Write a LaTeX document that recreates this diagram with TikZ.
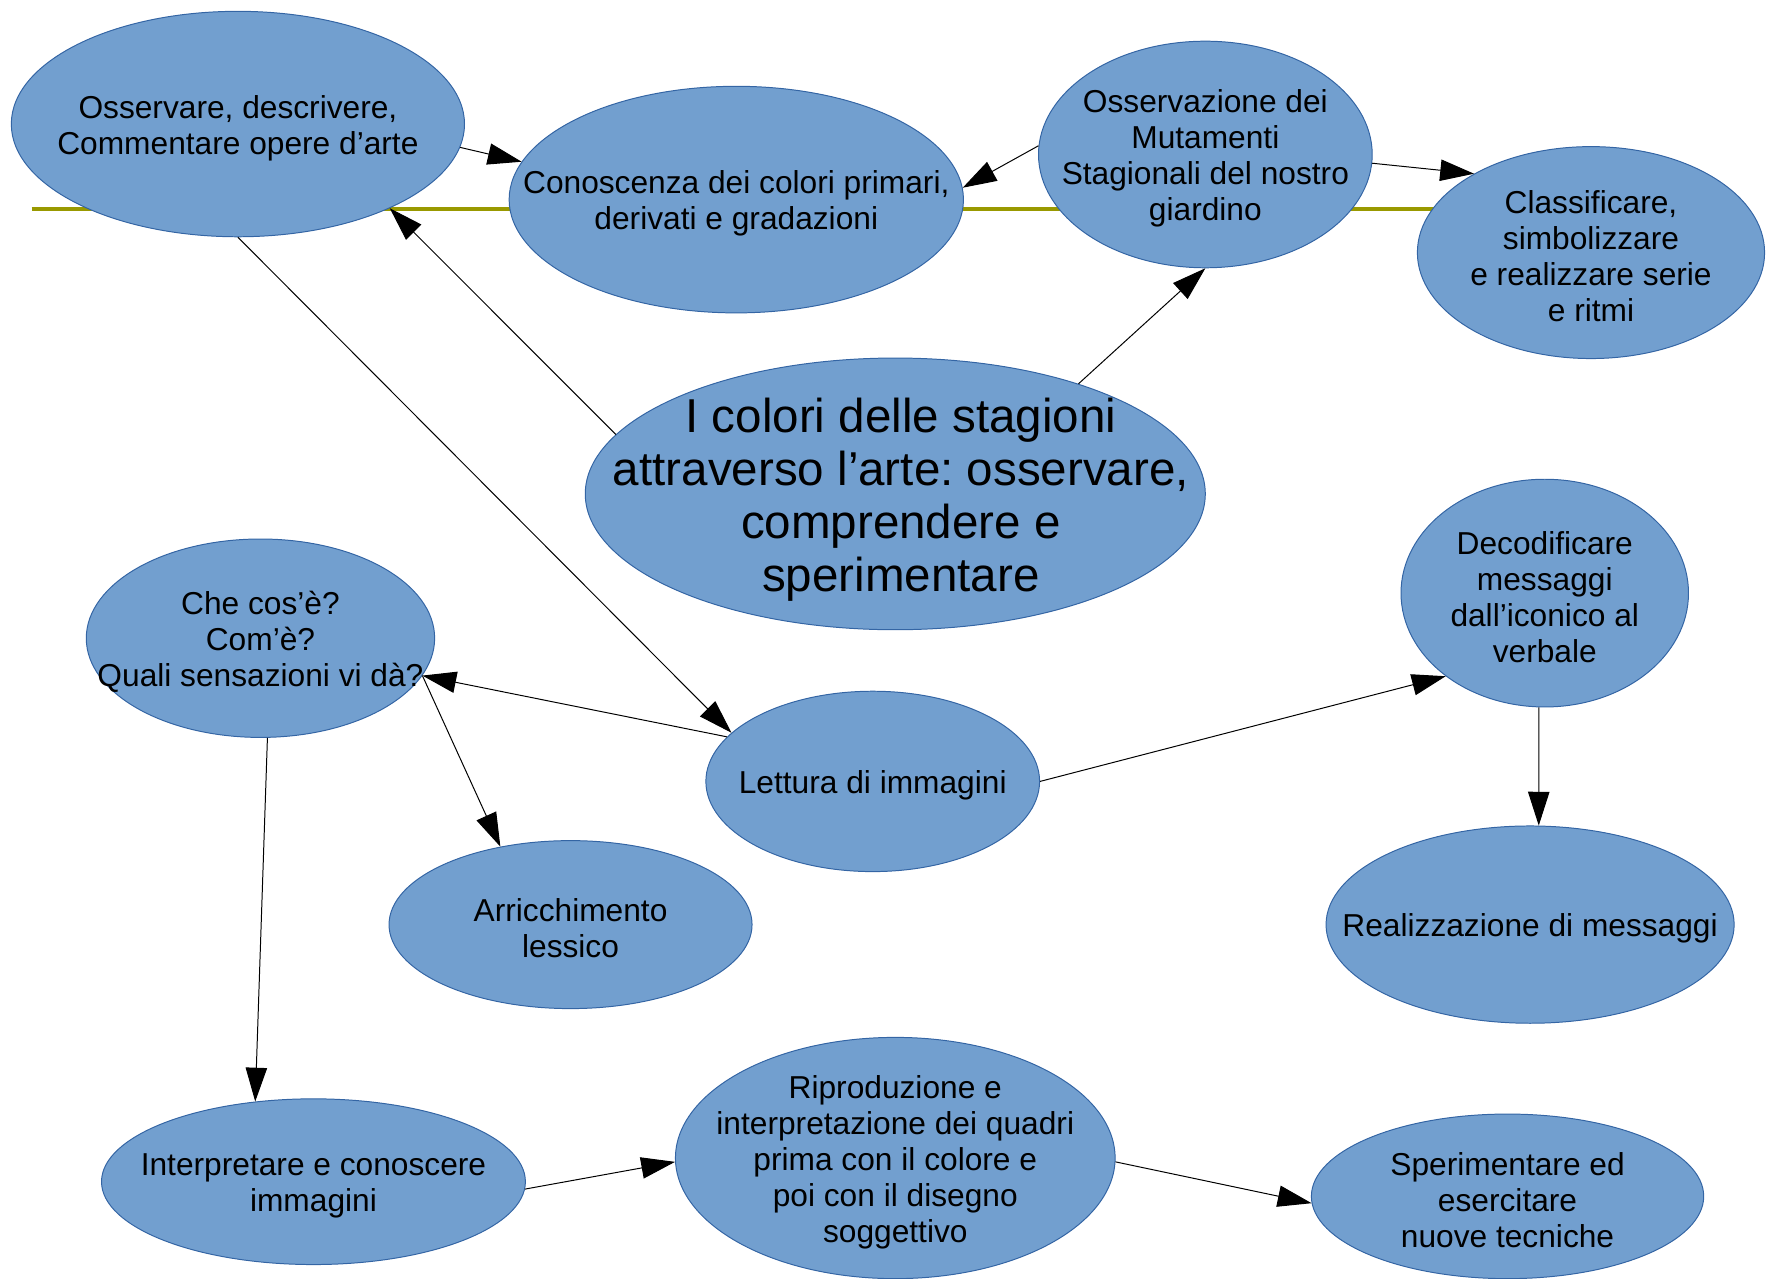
\documentclass[tikz,border=0pt]{standalone}
\usepackage{fontspec}
\setmainfont{Liberation Sans}
\usetikzlibrary{shapes.geometric,arrows.meta}
\definecolor{bubblefill}{RGB}{114,159,207}
\definecolor{bubbleline}{RGB}{52,101,164}
\definecolor{olivebar}{RGB}{153,153,0}
\frenchspacing
\begin{document}
\begin{tikzpicture}[x=0.02cm,y=-0.02cm,
					bubble/.style 2 args={ellipse, draw=bubbleline, fill=bubblefill, line width=0.5pt, inner sep=0pt, minimum width=#1, minimum height=#2},
					txt/.style={align=center, yshift=-0.07cm, font=\fontsize{16}{18.2}\selectfont},
					bigtxt/.style={align=center, xshift=0.1cm, yshift=-0.1cm, font=\fontsize{24}{26.8}\selectfont},
					conn/.style={line width=0.5pt, -{Triangle[length=0.6cm,width=0.38cm]}}]
    \useasboundingbox (0,0) rectangle (1568,1134);
    \draw[olivebar, line width=2pt] (28,185) -- (1300,185);
    % Place nodes
    \node [bubble={8.04cm}{4cm}, label={[txt]center:{Osservare, descrivere,\\Commentare opere d’arte}}] (A) at (211,110){};
    \node [bubble={8.06cm}{4.02cm}, label={[txt]center:{Conoscenza dei colori primari,\\derivati e gradazioni}}] (B) at (653,177){};
    \node [bubble={5.92cm}{4.02cm}, label={[txt]center:{Osservazione dei\\Mutamenti\\Stagionali del nostro\\giardino}}] (C) at (1069,137){};
    \node [bubble={6.16cm}{3.76cm}, label={[txt]center:{Classificare,\\simbolizzare\\e realizzare serie\\e ritmi}}] (D) at (1411,224){};
    \node [bubble={11cm}{4.82cm}, label={[bigtxt]center:{I colori delle stagioni\\attraverso l’arte: osservare,\\comprendere e\\sperimentare}}] (E) at (794,438){};
    \node [bubble={6.18cm}{3.52cm}, label={[txt]center:{Che cos’è?\\Com’è?\\Quali sensazioni vi dà?}}] (F) at (231,566){};
    \node [bubble={5.1cm}{4.04cm}, label={[txt]center:{Decodificare\\messaggi\\dall’iconico al\\verbale}}] (G) at (1370,526){};
    \node [bubble={5.92cm}{3.2cm}, label={[txt]center:{Lettura di immagini}}] (H) at (774,693){};
    \node [bubble={6.44cm}{2.98cm}, label={[txt]center:{Arricchimento\\lessico}}] (I) at (506,820){};
    \node [bubble={7.24cm}{3.5cm}, label={[txt]center:{Realizzazione di messaggi}}] (J) at (1357,820){};
    \node [bubble={7.52cm}{2.94cm}, label={[txt]center:{Interpretare e conoscere\\immagini}}] (K) at (278,1048){};
    \node [bubble={7.8cm}{4.28cm}, label={[txt]center:{Riproduzione e\\interpretazione dei quadri\\prima con il colore e\\poi con il disegno\\soggettivo}}] (L) at (794,1027){};
    \node [bubble={6.96cm}{2.92cm}, label={[txt]center:{Sperimentare ed\\esercitare\\nuove tecniche}}] (M) at (1337,1061){};
    % Draw edges
    \draw[conn] (A.-6) -- (B.170);
    \draw[conn] (C.177) -- (B.3);
    \draw[conn] (C.-3) -- (D.146);
    \draw[conn] (E.31) -- (C.-90);
    \draw[conn] (E.168) -- (A.-29);
    \draw[conn] (A.-90) -- (H.161);
    \draw[conn] (H.163) -- (F.-13);
    \draw[conn] (F.-13) -- (I.132);
    \draw[conn] (H.0) -- (G.220);
    \draw[conn] (G.-93) -- (J.85);
    \draw[conn] (F.-86) -- (K.126);
    \draw[conn] (K.-2) -- (L.181);
    \draw[conn] (L.-1) -- (M.182);
\end{tikzpicture}
\end{document}
